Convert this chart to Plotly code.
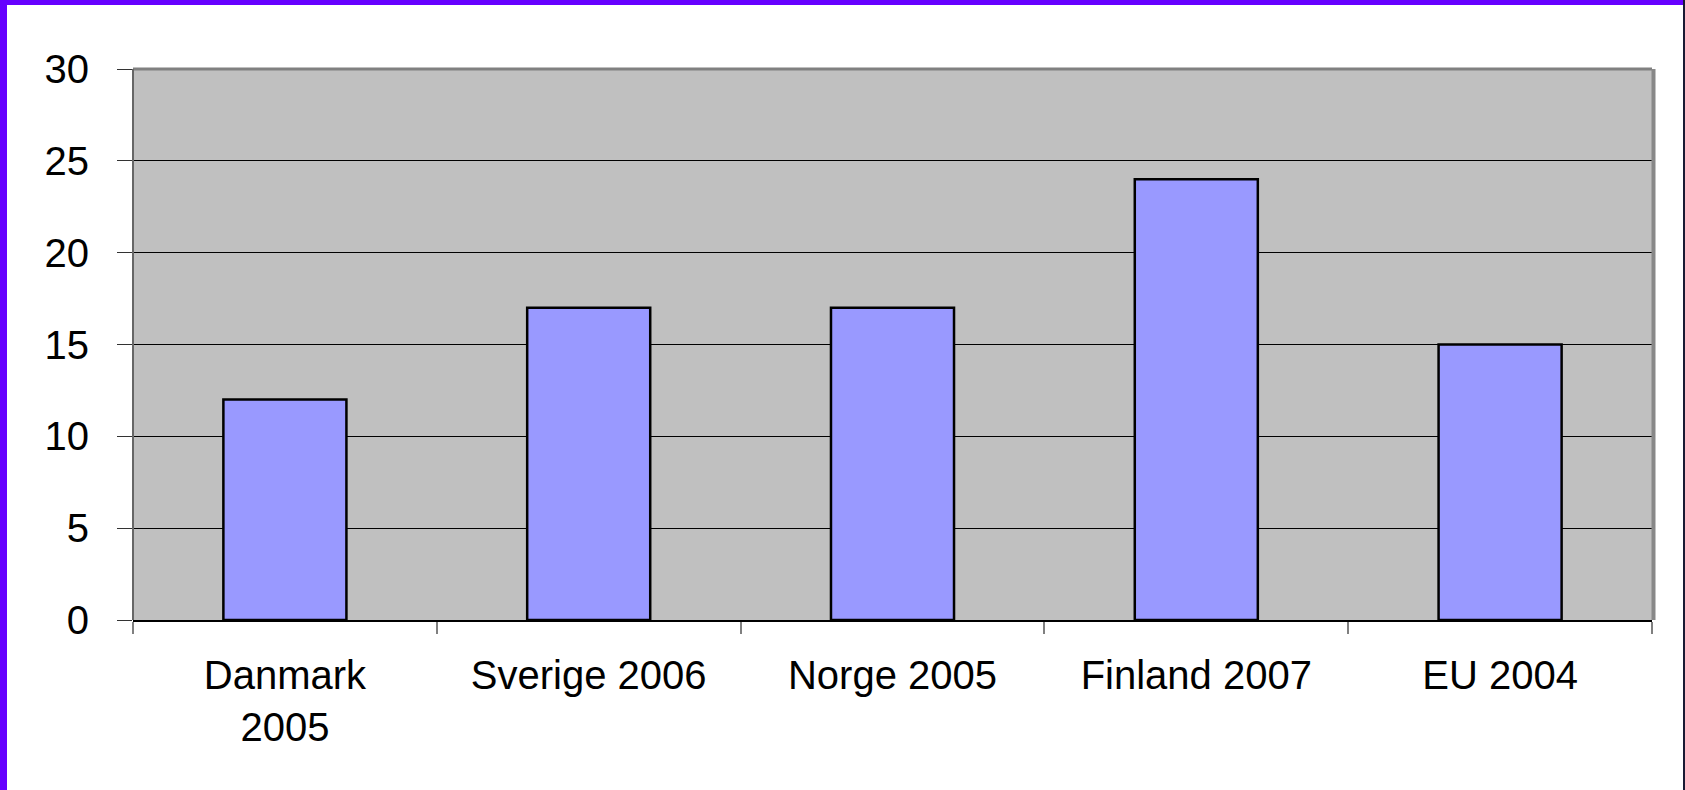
import plotly.graph_objects as go

categories = ["Danmark<br>2005", "Sverige 2006", "Norge 2005", "Finland 2007", "EU 2004"]
values = [12, 17, 17, 24, 15]
y_ticks = [0, 5, 10, 15, 20, 25, 30]

W, H = 1685, 790
L, R, T, B = 133, 33, 69, 170
pw, ph = W - L - R, H - T - B

fig = go.Figure()
fig.add_trace(go.Bar(
    x=categories, y=values,
    marker=dict(color="#9999FF", line=dict(color="#000000", width=2.5)),
    width=0.405,
))

font = dict(family="Liberation Sans, Arial, sans-serif", size=40, color="#000000")

fig.update_layout(
    width=W, height=H,
    margin=dict(l=L, r=R, t=T, b=B, pad=0),
    paper_bgcolor="#FFFFFF",
    plot_bgcolor="#C0C0C0",
    showlegend=False,
    font=font,
    xaxis=dict(
        type="category", tickson="boundaries", ticks="outside", ticklen=12,
        tickcolor="#808080", tickwidth=1.5,
        showline=True, linecolor="#000000", linewidth=1.5,
        showgrid=False, tickfont=font, ticklabelstandoff=19,
    ),
    yaxis=dict(
        range=[0, 30], tickvals=y_ticks, ticks="outside", ticklen=15,
        tickcolor="#333333", tickwidth=1,
        showgrid=True, gridcolor="#000000", gridwidth=1,
        zeroline=False, showline=False, tickfont=font, ticklabelstandoff=20,
    ),
    shapes=[
        # plot frame (gray) top, left, right
        dict(type="line", xref="paper", yref="paper", x0=0, x1=1, y0=1, y1=1,
             line=dict(color="#808080", width=3)),
        dict(type="line", xref="paper", yref="paper", x0=0, x1=0, y0=0, y1=1,
             line=dict(color="#666666", width=2)),
        dict(type="line", xref="paper", yref="paper", x0=1 + 1.5 / pw, x1=1 + 1.5 / pw, y0=0, y1=1,
             line=dict(color="#888888", width=4)),
        # outer purple border (left and top) and thin dark right line
        dict(type="rect", xref="paper", yref="paper",
             x0=-L / pw, x1=(-L + 7) / pw, y0=-B / ph, y1=1 + T / ph,
             fillcolor="#6600FF", line=dict(width=0)),
        dict(type="rect", xref="paper", yref="paper",
             x0=-L / pw, x1=1 + R / pw, y0=1 + (T - 5) / ph, y1=1 + T / ph,
             fillcolor="#6600FF", line=dict(width=0)),
        dict(type="rect", xref="paper", yref="paper",
             x0=1 + (R - 2) / pw, x1=1 + R / pw, y0=-B / ph, y1=1 + T / ph,
             fillcolor="#1A1A33", line=dict(width=0)),
    ],
)

fig.write_html("out.html", config={"displayModeBar": False},
               post_script="document.body.style.margin='0';")
